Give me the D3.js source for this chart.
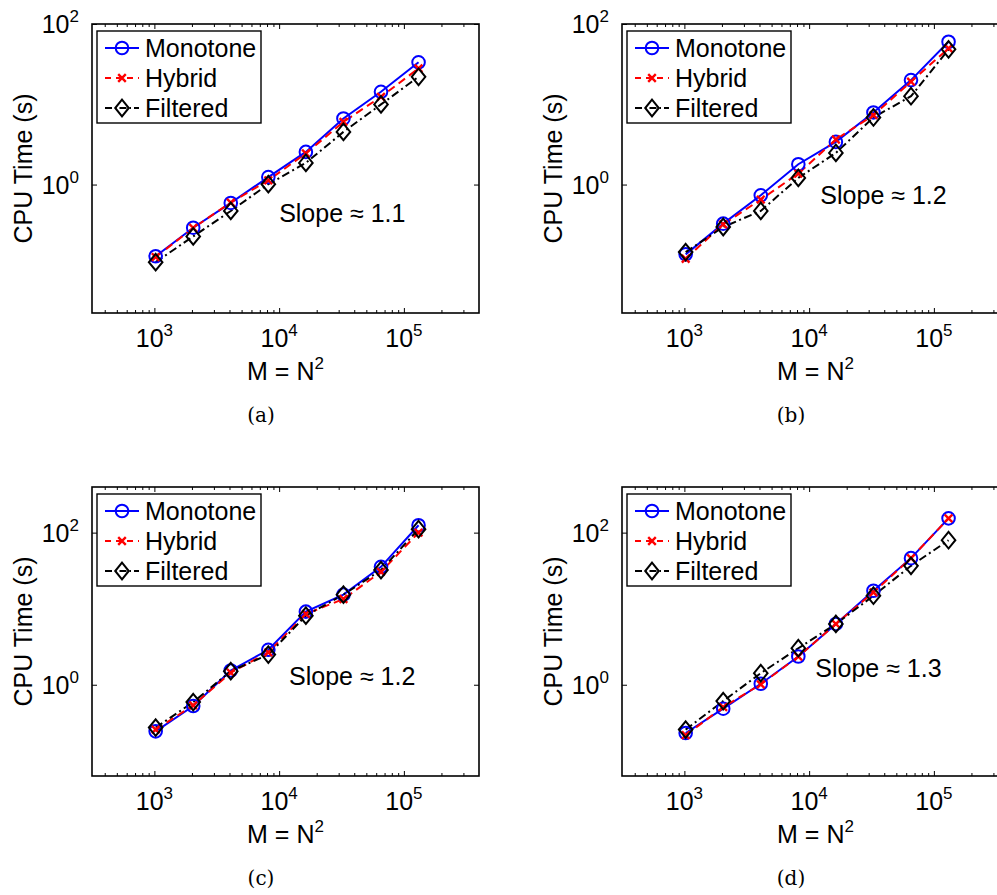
<!DOCTYPE html>
<html>
<head>
<meta charset="utf-8">
<script src="https://cdn.jsdelivr.net/npm/d3@7"></script>
<style>
  body { margin: 0; background: #ffffff; }
  svg { display: block; }
</style>
</head>
<body>
<div id="main_output"></div>
<script>
// problem sizes M = N^2
const M = [1024, 2048, 4096, 8192, 16384, 32768, 65536, 131072];

// CPU times (s)
const mono_a = [0.128, 0.29, 0.59, 1.24, 2.55, 6.66, 14.3, 33.3];
const hyb_a  = [0.125, 0.288, 0.596, 1.13, 2.44, 6.04, 12.4, 28.0];
const filt_a = [0.108, 0.226, 0.469, 1.01, 1.86, 4.53, 9.96, 22.0];

const mono_b = [0.135, 0.326, 0.735, 1.79, 3.40, 7.91, 20.0, 60.1];
const hyb_b  = [0.119, 0.32, 0.65, 1.37, 3.64, 7.32, 19.1, 49.8];
const filt_b = [0.144, 0.296, 0.469, 1.21, 2.48, 6.85, 12.6, 48.3];

const mono_c = [0.244, 0.525, 1.54, 2.88, 9.14, 15.3, 35.5, 125];
const hyb_c  = [0.257, 0.536, 1.44, 2.67, 8.53, 13.4, 30.5, 100];
const filt_c = [0.273, 0.591, 1.51, 2.49, 8.09, 15.3, 32.2, 111];

const mono_d = [0.232, 0.484, 1.03, 2.35, 6.30, 17.2, 46.2, 154];
const hyb_d  = [0.217, 0.509, 1.01, 2.35, 6.30, 16.4, 46.2, 154];
const filt_d = [0.257, 0.61, 1.42, 3.02, 6.30, 14.8, 36.6, 79.5];

const series_names = ["Monotone", "Hybrid", "Filtered"];
const slope_labels = ["Slope \u2248 1.1", "Slope \u2248 1.2", "Slope \u2248 1.2", "Slope \u2248 1.3"];
const panel_labels = ["(a)", "(b)", "(c)", "(d)"];
const slope_pos = [[1.0e4, 0.44], [1.23e4, 0.74], [1.2e4, 1.3], [1.12e4, 1.66]];

const x_major = [1e3, 1e4, 1e5];
const y_major = [1e0, 1e2];

const mono_colour = "#0000ff";
const hyb_colour = "#ff0000";
const filt_colour = "#000000";

const width = 997, height = 895;
const panel_w = 387, panel_h = 289;
const font = "'Liberation Sans', Arial, Helvetica, sans-serif";

var panels = [
  {left: 92,  top: 24,  ydom: [Math.pow(10, -1.6), 100], data: [mono_a, hyb_a, filt_a]},
  {left: 622, top: 24,  ydom: [Math.pow(10, -1.6), 100], data: [mono_b, hyb_b, filt_b]},
  {left: 92,  top: 487, ydom: [Math.pow(10, -1.2), Math.pow(10, 2.6)], data: [mono_c, hyb_c, filt_c]},
  {left: 622, top: 487, ydom: [Math.pow(10, -1.2), Math.pow(10, 2.6)], data: [mono_d, hyb_d, filt_d]}
];

var styles = [
  {colour: mono_colour, dash: null, marker: "circle"},
  {colour: hyb_colour, dash: "8,5", marker: "cross"},
  {colour: filt_colour, dash: "8,3.5,2,3.5", marker: "diamond"}
];

var svg = d3.select("#main_output")
  .append("svg")
  .attr("width", width)
  .attr("height", height)
  .style("background", "#ffffff");

function drawMarker(g, type, cx, cy, colour) {
  if (type === "circle") {
    g.append("circle")
      .attr("cx", cx).attr("cy", cy).attr("r", 6.3)
      .attr("fill", "none").attr("stroke", colour).attr("stroke-width", 2);
  } else if (type === "cross") {
    var s = 3.8;
    g.append("path")
      .attr("d", "M" + (cx - s) + "," + (cy - s) + "L" + (cx + s) + "," + (cy + s) +
                 "M" + (cx - s) + "," + (cy + s) + "L" + (cx + s) + "," + (cy - s))
      .attr("fill", "none").attr("stroke", colour).attr("stroke-width", 2.4);
  } else {
    var w = 6.8, h = 8.3;
    g.append("path")
      .attr("d", "M" + cx + "," + (cy - h) + "L" + (cx + w) + "," + cy + "L" + cx + "," + (cy + h) +
                 "L" + (cx - w) + "," + cy + "Z")
      .attr("fill", "none").attr("stroke", colour).attr("stroke-width", 2);
  }
}

function supLabel(sel, exp) {
  sel.append("tspan").text("10");
  sel.append("tspan").attr("font-size", "17px").attr("dy", "-11").text(exp);
}

panels.forEach(function(p, pi) {
  var x = d3.scaleLog().domain([Math.pow(10, 2.5), 4e5]).range([0, panel_w]);
  var y = d3.scaleLog().domain(p.ydom).range([panel_h, 0]);

  var g = svg.append("g")
    .attr("transform", "translate(" + p.left + "," + p.top + ")");

  // minor x ticks
  var x_minor = [];
  for (var e = 2; e <= 5; e++) {
    for (var k = 2; k <= 9; k++) {
      var v = k * Math.pow(10, e);
      if (v > x.domain()[0] && v < x.domain()[1]) x_minor.push(v);
    }
  }

  g.append("g")
    .attr("transform", "translate(0," + panel_h + ")")
    .call(d3.axisBottom(x).tickValues(x_minor).tickSize(-3).tickSizeOuter(0).tickFormat(""));
  g.append("g")
    .call(d3.axisTop(x).tickValues(x_minor).tickSize(-3).tickSizeOuter(0).tickFormat(""));
  g.append("g")
    .attr("transform", "translate(0," + panel_h + ")")
    .call(d3.axisBottom(x).tickValues(x_major).tickSize(-5).tickSizeOuter(0).tickFormat(""));
  g.append("g")
    .call(d3.axisTop(x).tickValues(x_major).tickSize(-5).tickSizeOuter(0).tickFormat(""));
  g.append("g")
    .call(d3.axisLeft(y).tickValues(y_major).tickSize(-5).tickSizeOuter(0).tickFormat(""));
  g.append("g")
    .attr("transform", "translate(" + panel_w + ",0)")
    .call(d3.axisRight(y).tickValues(y_major).tickSize(-5).tickSizeOuter(0).tickFormat(""));

  g.selectAll(".domain").remove();
  g.selectAll(".tick line").attr("stroke", "#000").attr("stroke-width", 1);

  // box
  g.append("rect")
    .attr("x", 0).attr("y", 0)
    .attr("width", panel_w).attr("height", panel_h)
    .attr("fill", "none").attr("stroke", "#000").attr("stroke-width", 1.6);

  // tick labels
  x_major.forEach(function(v) {
    var t = g.append("text")
      .attr("x", x(v)).attr("y", panel_h + 34)
      .attr("text-anchor", "middle")
      .attr("font-family", font).attr("font-size", "25px");
    supLabel(t, Math.round(Math.log10(v)));
  });
  y_major.forEach(function(v) {
    var t = g.append("text")
      .attr("x", -13).attr("y", y(v) + 9)
      .attr("text-anchor", "end")
      .attr("font-family", font).attr("font-size", "25px");
    supLabel(t, Math.round(Math.log10(v)));
  });

  // axis titles
  var xl = g.append("text")
    .attr("x", panel_w / 2).attr("y", panel_h + 67)
    .attr("text-anchor", "middle")
    .attr("font-family", font).attr("font-size", "25px");
  xl.append("tspan").text("M = N");
  xl.append("tspan").attr("font-size", "17px").attr("dy", "-11").text("2");

  g.append("text")
    .attr("transform", "translate(-60," + (panel_h / 2) + ") rotate(-90)")
    .attr("text-anchor", "middle")
    .attr("font-family", font).attr("font-size", "25px")
    .text("CPU Time (s)");

  // series
  var line = d3.line()
    .x(function(d, i) { return x(M[i]); })
    .y(function(d) { return y(d); });

  p.data.forEach(function(vals, si) {
    var st = styles[si];
    var path = g.append("path")
      .datum(vals)
      .attr("fill", "none")
      .attr("stroke", st.colour)
      .attr("stroke-width", 2)
      .attr("d", line);
    if (st.dash) path.attr("stroke-dasharray", st.dash);
  });
  p.data.forEach(function(vals, si) {
    var st = styles[si];
    vals.forEach(function(v, i) {
      drawMarker(g, st.marker, x(M[i]), y(v), st.colour);
    });
  });

  // slope annotation
  g.append("text")
    .attr("x", x(slope_pos[pi][0])).attr("y", y(slope_pos[pi][1]))
    .attr("dy", "0.35em")
    .attr("font-family", font).attr("font-size", "25px")
    .text(slope_labels[pi]);

  // legend
  var leg = g.append("g").attr("transform", "translate(5,7)");
  leg.append("rect")
    .attr("width", 164).attr("height", 92)
    .attr("fill", "#fff").attr("stroke", "#000").attr("stroke-width", 1.4);
  series_names.forEach(function(name, si) {
    var st = styles[si];
    var ly = 17 + si * 30;
    var l = leg.append("line")
      .attr("x1", 8).attr("x2", 42).attr("y1", ly).attr("y2", ly)
      .attr("stroke", st.colour).attr("stroke-width", 2);
    if (st.dash) l.attr("stroke-dasharray", si === 1 ? "6,5" : "7,3,1.5,3");
    drawMarker(leg, st.marker, 25, ly, st.colour);
    leg.append("text")
      .attr("x", 48).attr("y", ly + 9)
      .attr("font-family", font).attr("font-size", "25px")
      .text(name);
  });

  // panel caption
  svg.append("text")
    .attr("x", p.left + 169).attr("y", p.top + panel_h + 109)
    .attr("text-anchor", "middle")
    .attr("font-family", "'DejaVu Serif', 'Liberation Serif', serif")
    .attr("font-size", "20px")
    .text(panel_labels[pi]);
});
</script>
</body>
</html>
